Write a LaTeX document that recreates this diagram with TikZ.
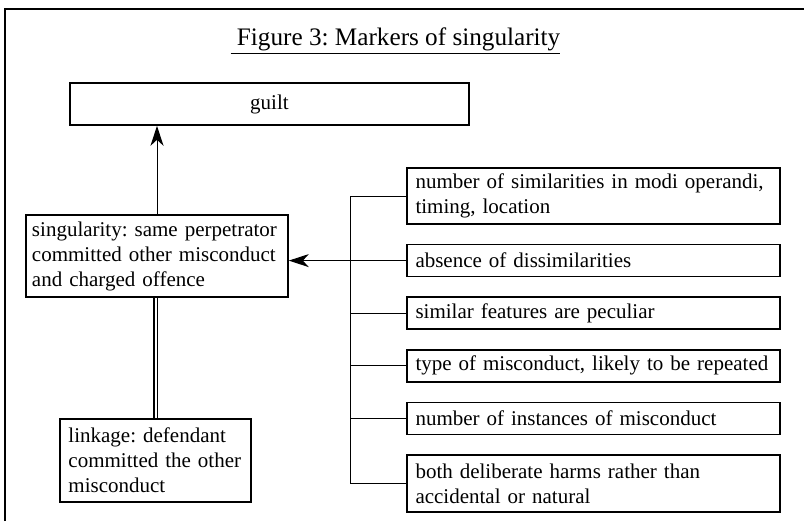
\documentclass[tikz,border=0pt]{standalone}
\usepackage{fontspec}
\setmainfont{Liberation Serif}
\frenchspacing
\usetikzlibrary{arrows.meta,positioning}

\tikzset{
  box/.style={draw, rectangle, line width=0.8pt, inner ysep=2pt,
    font=\fontsize{10.5}{12.5}\selectfont},
  marker/.style={box, text width=178pt, inner xsep=4.25pt, align=left},
  wire/.style={line width=0.5pt},
}

\begin{document}
\begin{tikzpicture}[x=0.5pt,y=-0.5pt,>={Stealth[length=10pt,width=6.5pt,inset=3pt]},node distance=9.5pt]

\useasboundingbox (0,0) rectangle (804,521);
\draw[line width=0.6pt] (5,521) -- (5,9) -- (804,9);

\node[font=\fontsize{12.6}{15}\selectfont, anchor=base] (title) at (395.5,45)
  {\underline{\ Figure 3: Markers of singularity}};

\node[box, minimum width=199.5pt, minimum height=21pt] (guilt) at (269.5,104) {guilt};
\node[box, text width=125pt, inner xsep=3pt, align=left, minimum height=41pt] (sing) at (157,256)
  {singularity: same perpetrator\\committed other misconduct\\and charged offence};
\node[box, text width=87pt, inner xsep=4.25pt, align=left, minimum height=41.5pt] (linkage) at (155.5,460.5)
  {linkage: defendant\\committed the other\\misconduct};

% markers on the right
\node[marker, minimum height=28pt] (m1) at (593.5,196)
  {number of similarities in modi operandi,\\timing, location};
\node[marker, minimum height=16pt, below=of m1] (m2) {absence of dissimilarities};
\node[marker, minimum height=16pt, below=of m2] (m3) {similar features are peculiar};
\node[marker, minimum height=16pt, below=of m3] (m4) {type of misconduct, likely to be repeated};
\node[marker, minimum height=16pt, below=of m4] (m5) {number of instances of misconduct};
\node[marker, minimum height=28.5pt, below=of m5] (m6)
  {both deliberate harms rather than\\accidental or natural};

\coordinate (bus) at (350,0);
\draw[wire] (m1.west -| bus) -- (m6.west -| bus);
\foreach \m in {m1,m3,m4,m5,m6}
  \draw[wire] (\m.west) -- (\m.west -| bus);
\draw[wire,->] (m2.west) -- (sing.east |- m2.west);

\draw[wire,->] (sing.north) -- (sing.north |- guilt.south);
\draw[line width=0.8pt, double, double distance=1pt] (linkage.north) -- (linkage.north |- sing.south);

\end{tikzpicture}
\end{document}
